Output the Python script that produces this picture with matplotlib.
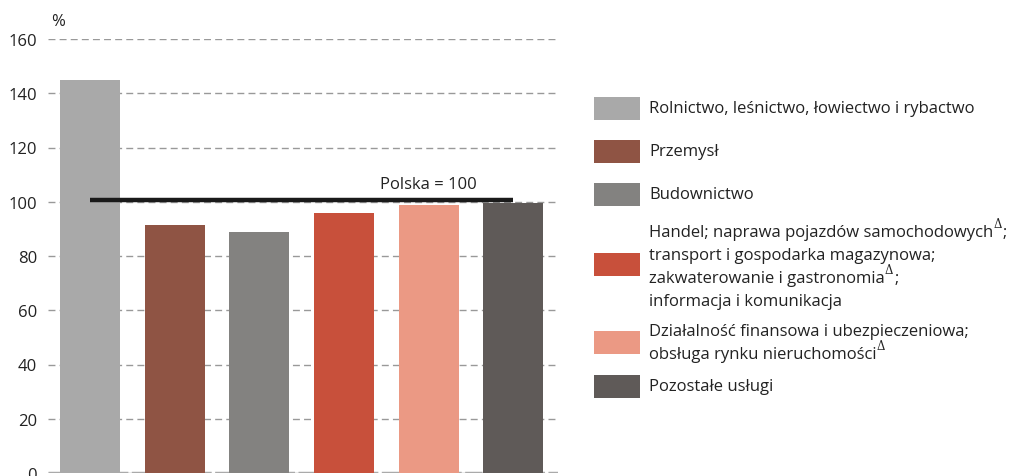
import matplotlib
matplotlib.use("Agg")
import matplotlib.pyplot as plt
from matplotlib.patches import Rectangle

categories = [
    "Rolnictwo, leśnictwo, łowiectwo i rybactwo",
    "Przemysł",
    "Budownictwo",
    "Handel; naprawa pojazdów samochodowych; transport i gospodarka magazynowa; zakwaterowanie i gastronomia; informacja i komunikacja",
    "Działalność finansowa i ubezpieczeniowa; obsługa rynku nieruchomości",
    "Pozostałe usługi",
]
values = [145, 91.3, 89.0, 96.0, 98.7, 99.7]
colors = ["#A9A9A9", "#8F5444", "#838280", "#C8503B", "#EB9984", "#5F5A58"]
poland_value = 100
yticks = [0, 20, 40, 60, 80, 100, 120, 140, 160]

# legend texts: list of lines; each line = list of (text, superscript?) pieces
legend_lines = [
    [[("Rolnictwo, leśnictwo, łowiectwo i rybactwo", False)]],
    [[("Przemysł", False)]],
    [[("Budownictwo", False)]],
    [[("Handel; naprawa pojazdów samochodowych", False), ("Δ", True), (";", False)],
     [("transport i gospodarka magazynowa;", False)],
     [("zakwaterowanie i gastronomia", False), ("Δ", True), (";", False)],
     [("informacja i komunikacja", False)]],
    [[("Działalność finansowa i ubezpieczeniowa;", False)],
     [("obsługa rynku nieruchomości", False), ("Δ", True)]],
    [[("Pozostałe usługi", False)]],
]

FONT = "Open Sans"
FS = 12
plt.rcParams["font.family"] = [FONT, "DejaVu Sans"]

W, H = 1014, 477
fig = plt.figure(figsize=(W / 100, H / 100), dpi=100)
ax = fig.add_axes([48 / W, 3 / H, 510 / W, 434 / H])

x = list(range(len(values)))
ax.bar(x, values, width=0.71, color=colors, zorder=2)
ax.set_xlim(-0.5, 5.53)
ax.set_ylim(0, 160)
ax.set_yticks(yticks)
ax.set_xticks([])
ax.tick_params(axis="y", length=0, pad=8, labelsize=FS, labelcolor="#222222")
for s in ax.spines.values():
    s.set_visible(False)
ax.yaxis.grid(True, color="#999999", linestyle=(0, (5, 3)), linewidth=1.0, zorder=0)
ax.set_axisbelow(True)
ax.axhline(0, color="#AAAAAA", linestyle=(0, (5, 1)), linewidth=2.5, zorder=1)

ax.plot([0, 5], [poland_value + 0.5, poland_value + 0.5], color="#1a1a1a", linewidth=3.2,
        solid_capstyle="butt", zorder=3)
ax.text(4.0, 106.5, "Polska = 100", ha="center", va="center", fontsize=FS, color="#222222")

fig.text(58 / W, 1 - 22 / H, "%", ha="center", va="center", fontsize=FS, color="#222222")

# legend
patch_centers = [109, 152, 195, 265, 343, 387]
line_starts = [109, 152, 195, 233, 332, 387]
line_gap = 23
renderer = fig.canvas.get_renderer()
for i, (pc, ls, lines) in enumerate(zip(patch_centers, line_starts, legend_lines)):
    fig.add_artist(Rectangle((594 / W, 1 - (pc + 11.5) / H), 46 / W, 23 / H,
                             transform=fig.transFigure, color=colors[i], lw=0))
    for j, pieces in enumerate(lines):
        yc = ls + j * line_gap
        xpos = 649
        for txt, sup in pieces:
            if sup:
                t = fig.text(xpos / W, 1 - (yc - 8) / H, txt, ha="left", va="center",
                             fontsize=FS * 0.7, color="#222222",
                             family=["DejaVu Serif"])
            else:
                t = fig.text(xpos / W, 1 - yc / H, txt, ha="left", va="center",
                             fontsize=FS, color="#222222")
            bb = t.get_window_extent(renderer=renderer)
            xpos += bb.width + (1 if sup else 0)

fig.savefig("out.png", dpi=100)
